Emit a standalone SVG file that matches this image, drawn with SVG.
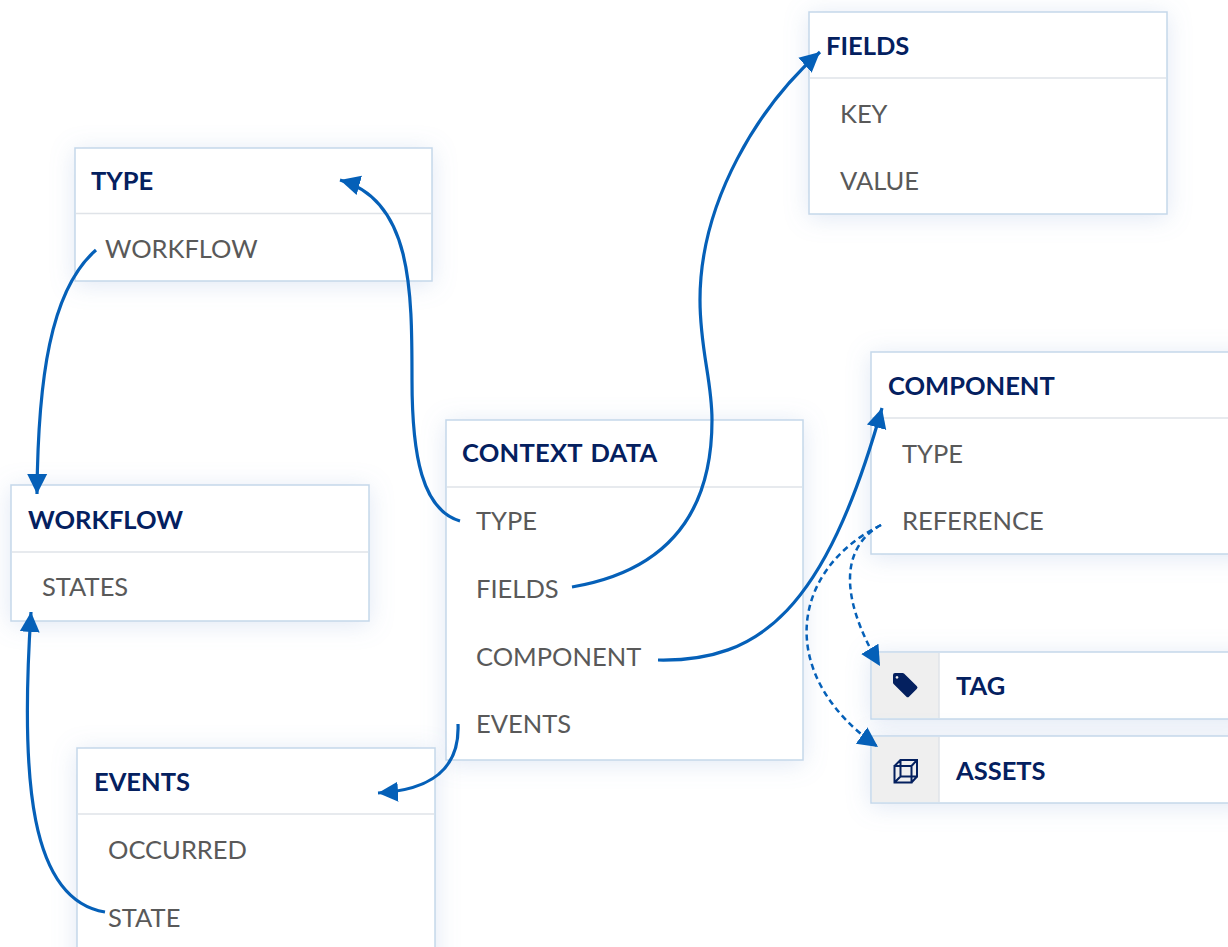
<svg xmlns="http://www.w3.org/2000/svg" width="1228" height="947" viewBox="0 0 1228 947">
<style>
.box{fill:#fff;stroke:#c5d8ea;stroke-width:1.5;filter:url(#sh)}
.div{stroke:#dfe3e8;stroke-width:1.5;fill:none}
.cell{fill:#efefef}
.t{font:700 25.5px Lato,"Open Sans",sans-serif;fill:#04205f}
.w{word-spacing:2px;letter-spacing:.25px}
.i{font:400 25.5px Lato,"Open Sans",sans-serif;fill:#595959}
.c{fill:none;stroke:#0560b8;stroke-width:3.200;marker-end:url(#a)}
.d{stroke-width:2.500;stroke-dasharray:6 4}
</style>
<defs>
<filter id="sh" x="-20%" y="-40%" width="140%" height="190%"><feDropShadow dx="0" dy="3" stdDeviation="12" flood-color="#7f9fd0" flood-opacity=".24"/></filter>
<marker id="a" markerUnits="userSpaceOnUse" markerWidth="24" markerHeight="22" refX="20" refY="11" orient="auto"><path d="M0 1L20 11L0 21Z" fill="#0560b8"/></marker>
</defs>
<g id="node-fields"><rect class="box" x="809" y="12" width="358" height="202"/><path class="div" d="M810 78H1166"/><text class="t" x="826" y="55">FIELDS</text><text class="i" x="840" y="123">KEY</text><text class="i" x="840" y="190">VALUE</text></g>
<g id="node-type"><rect class="box" x="75" y="148" width="357" height="133"/><path class="div" d="M76 213.500H431"/><text class="t" x="91" y="190">TYPE</text><text class="i" x="105" y="258">WORKFLOW</text></g>
<g id="node-workflow"><rect class="box" x="11" y="485" width="358" height="136"/><path class="div" d="M12 552H368"/><text class="t" x="28" y="529">WORKFLOW</text><text class="i" x="42" y="596">STATES</text></g>
<g id="node-context"><rect class="box" x="446" y="420" width="357" height="340"/><path class="div" d="M447 487H802"/><text class="t w" x="462" y="462">CONTEXT DATA</text><text class="i" x="476" y="530">TYPE</text><text class="i" x="476" y="598">FIELDS</text><text class="i" x="476" y="666">COMPONENT</text><text class="i" x="476" y="733">EVENTS</text></g>
<g id="node-events"><rect class="box" x="77" y="748" width="358" height="230"/><path class="div" d="M78 814H434"/><text class="t" x="94" y="791">EVENTS</text><text class="i" x="108" y="859">OCCURRED</text><text class="i" x="108" y="927">STATE</text></g>
<g id="node-component"><rect class="box" x="871" y="352" width="380" height="202"/><path class="div" d="M872 418H1228"/><text class="t" x="888" y="395">COMPONENT</text><text class="i" x="902" y="463">TYPE</text><text class="i" x="902" y="530">REFERENCE</text></g>
<g id="node-tag"><rect class="box" x="871" y="652" width="380" height="67"/><rect class="cell" x="872" y="653" width="67" height="65"/><path class="div" d="M939 653V718"/><path d="M893 675a2 2 0 0 1 2-2h7.500a2 2 0 0 1 1.500.600l12.700 12.400a2 2 0 0 1 0 3l-7.500 7.500a2 2 0 0 1-3 0L893.600 684a2 2 0 0 1-.600-1.500ZM897 676a1.400 1.400 0 1 0 .01 0Z" fill="#04205f" fill-rule="evenodd"/><text class="t" x="956" y="695">TAG</text></g>
<g id="node-assets"><rect class="box" x="871" y="736" width="380" height="67"/><rect class="cell" x="872" y="737" width="67" height="65"/><path class="div" d="M939 737V802"/><path d="M894.500 766H911.500V782.500H894.500ZM900.500 760H917V776.500H900.500ZM894.500 766L900.500 760M911.500 766L917 760M894.500 782.500L900.500 776.500M911.500 782.500L917 776.500" fill="none" stroke="#04205f" stroke-width="2"/><text class="t" x="956" y="780">ASSETS</text></g>
<g id="connectors">
<path class="c" d="M460 521C422 510 412 455 412 380C412 290 412 200 340 180"/>
<path class="c" d="M572 587C660 572 712 520 712 420C712 380 700 350 700 300C700 200 760 105 820 52"/>
<path class="c" d="M658 660C760 662 825 610 882 408"/>
<path class="c" d="M458 724C460 770 430 790 378 793"/>
<path class="c" d="M96 250C50 290 38 380 37 494"/>
<path class="c" d="M105 912C30 900 20 780 31 612"/>
<path class="c d" d="M881 525C845 545 835 590 880 666"/>
<path class="c d" d="M881 525C790 570 775 675 878 747"/>
</g>
</svg>
